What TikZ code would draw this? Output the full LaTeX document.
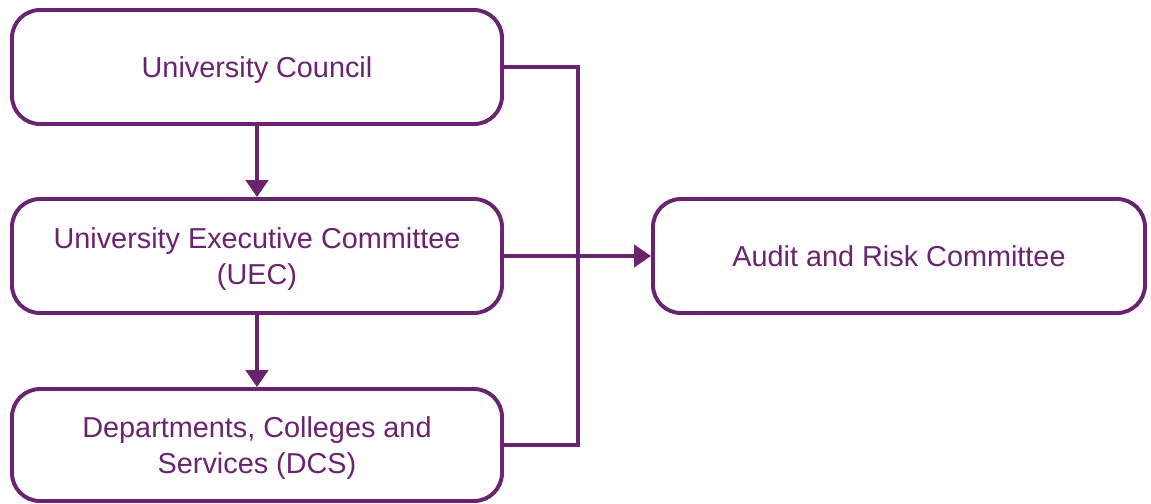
\documentclass[tikz,border=0pt]{standalone}
\usepackage{fontspec}
\setmainfont{Liberation Sans}
\usepackage{tikz}
\usetikzlibrary{calc}
\usetikzlibrary{arrows.meta}
\usetikzlibrary{positioning}
\definecolor{uopurple}{RGB}{106,35,110}
\tikzset{B/.style={rectangle,rounded corners=0.7cm,draw=uopurple,line width=2.8pt,minimum width=12.25cm,minimum height=2.85cm,align=center,text=uopurple,text depth=0pt,font=\fontsize{20.5}{25}\selectfont}}
\tikzset{L/.style={draw=uopurple,line width=2.8pt}}
\tikzset{A/.style={L,-{Triangle[width=0.55cm,length=0.42cm]}}}

\begin{document}
\begin{tikzpicture}

\useasboundingbox (0,0) rectangle (28.775,-12.575);

\node[B] (uc) at (6.425, -1.675) {University Council};
\node[B] (uec) at (6.425, -6.4) {University Executive Committee\\(UEC)};
\node[B, minimum height=2.8cm] (dcs) at (6.425, -11.125) {Departments, Colleges and\\Services (DCS)};
\node[B, minimum width=12.3cm] (arc) at (22.475, -6.4) {Audit and Risk Committee};

\draw[A] (uc) -- (uec);
\draw[A] (uec) -- (dcs);
\draw[L] (uc.east) -- ++(1.85,0) |- (dcs.east);
\draw[A] (uec) -- (arc);

\end{tikzpicture}
\end{document}
